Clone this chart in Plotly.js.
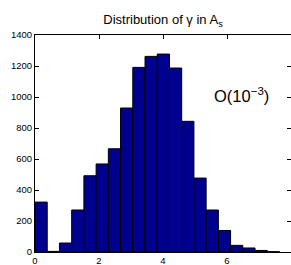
<!DOCTYPE html>
<html>
<head>
<meta charset="utf-8">
<script src="https://cdn.plot.ly/plotly-3.0.1.min.js"></script>
<style>html,body{margin:0;padding:0;background:#fff;}#chart{width:291px;height:265px;}</style>
</head>
<body>
<div id="chart"></div>
<script>
var binWidth = 0.382;
var counts = [322, 4, 58, 271, 492, 568, 666, 929, 1191, 1262, 1277, 1187, 843, 477, 271, 139, 43, 26, 10, 2];
var xTicks = [0, 2, 4, 6, 8];
var yTicks = [0, 200, 400, 600, 800, 1000, 1200, 1400];

var centers = counts.map(function(_, i){ return (i + 0.5) * binWidth; });

var trace = {
  type: 'bar',
  x: centers,
  y: counts,
  width: binWidth,
  marker: {color: '#00008F', line: {color: '#000000', width: 1}},
  hoverinfo: 'skip'
};

var axisCommon = {
  showgrid: false,
  zeroline: false,
  showline: true,
  linecolor: '#000',
  linewidth: 1,
  mirror: 'ticks',
  ticks: 'inside',
  ticklen: 4,
  tickcolor: '#000',
  tickfont: {family: 'Liberation Sans, Arial, sans-serif', size: 9.5, color: '#000'},
  automargin: false
};

var layout = {
  width: 291,
  height: 265,
  margin: {l: 35, r: 0, t: 35, b: 13},
  paper_bgcolor: '#fff',
  plot_bgcolor: '#fff',
  showlegend: false,
  bargap: 0,
  title: {
    text: 'Distribution of γ in A<sub>s</sub>',
    font: {family: 'Liberation Sans, Arial, sans-serif', size: 13, color: '#000'},
    x: 0.5, xref: 'paper', xanchor: 'center',
    y: 0.925, yref: 'container', yanchor: 'middle'
  },
  xaxis: Object.assign({}, axisCommon, {
    range: [0, 8],
    tickvals: xTicks,
    ticktext: xTicks.map(String)
  }),
  yaxis: Object.assign({}, axisCommon, {
    range: [0, 1400],
    tickvals: yTicks,
    ticktext: yTicks.map(String)
  }),
  annotations: [{
    x: 6.45, y: 1010, xref: 'x', yref: 'y',
    text: 'O(10<sup>−3</sup>)',
    showarrow: false,
    font: {family: 'Liberation Sans, Arial, sans-serif', size: 16.5, color: '#000'}
  }]
};

Plotly.newPlot('chart', [trace], layout, {displayModeBar: false, staticPlot: true});
</script>
</body>
</html>
